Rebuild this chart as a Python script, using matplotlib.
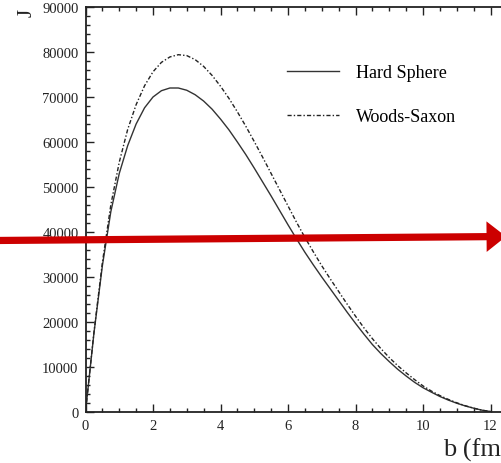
import numpy as np
import matplotlib
matplotlib.use('Agg')
import matplotlib.pyplot as plt
from matplotlib.ticker import MultipleLocator, FuncFormatter

# impact parameter b (fm), read every 0.25 fm
b = [0.0, 0.25, 0.5, 0.75, 1.0, 1.25, 1.5, 1.75, 2.0, 2.25, 2.5, 2.75,
     3.0, 3.25, 3.5, 3.75, 4.0, 4.25, 4.5, 4.75, 5.0, 5.25, 5.5, 5.75,
     6.0, 6.25, 6.5, 6.75, 7.0, 7.25, 7.5, 7.75, 8.0, 8.25, 8.5, 8.75,
     9.0, 9.25, 9.5, 9.75, 10.0, 10.25, 10.5, 10.75, 11.0, 11.25, 11.5,
     11.75, 12.0]

hard_sphere = [0, 17500, 32500, 44500, 53000, 59200, 64000, 67600, 70000,
               71400, 72000, 72000, 71500, 70500, 69100, 67300, 65100, 62700,
               60000, 57200, 54200, 51100, 48000, 44800, 41600, 38500, 35500,
               32700, 30000, 27400, 24800, 22200, 19700, 17300, 15000, 13000,
               11200, 9500, 8000, 6600, 5400, 4400, 3450, 2650, 1950, 1350,
               850, 400, 100]

woods_saxon = [0, 17700, 33200, 46000, 55500, 62800, 68300, 72500, 75600,
               77700, 78900, 79400, 79200, 78300, 76800, 74800, 72400, 69700,
               66700, 63500, 60100, 56600, 53000, 49400, 45800, 42200, 38800,
               35600, 32500, 29600, 26800, 24000, 21300, 18700, 16300, 14100,
               12100, 10300, 8700, 7200, 5800, 4650, 3650, 2800, 2050, 1400,
               850, 400, 100]

plt.rcParams['font.family'] = ['Liberation Serif', 'DejaVu Serif']

W, H = 501, 464
fig = plt.figure(figsize=(W / 100, H / 100), dpi=100)
x0, x1 = 85.5, 85.5 + 13 * 33.75
ax = fig.add_axes([x0 / W, 51 / H, (x1 - x0) / W, 405 / H])

ax.plot(b, hard_sphere, color='#333333', lw=1.0, label='Hard Sphere')
ax.plot(b, woods_saxon, color='#222222', lw=1.0,
        linestyle=(0, (3, 1.5, 1, 1.5)), label='Woods-Saxon')

ax.set_xlim(0, 13)
ax.set_ylim(0, 90000)
ax.xaxis.set_major_locator(MultipleLocator(2))
ax.xaxis.set_minor_locator(MultipleLocator(0.5))
ax.yaxis.set_major_locator(MultipleLocator(10000))
ax.yaxis.set_minor_locator(MultipleLocator(2000))
ax.tick_params(which='both', direction='in', top=True, right=False,
               labelsize=10.5, colors='#222222', width=1.0)
ax.tick_params(which='major', length=6, pad=5)
ax.tick_params(which='minor', length=3)
ax.xaxis.set_major_formatter(FuncFormatter(
    lambda v, p: '%d' % v if v <= 12 else ''))
ax.spines['right'].set_visible(False)
for s in ['left', 'bottom', 'top']:
    ax.spines[s].set_linewidth(1.3)
    ax.spines[s].set_color('#222222')

fig.text(27 / W, 1 - 13 / H, 'J', rotation=90, fontsize=15,
         ha='center', va='center', color='#222222')
fig.text(443 / W, 1 - 450 / H, 'b (fm)', fontsize=19,
         ha='left', va='center', color='#222222')

ax.legend(loc='upper left', bbox_to_anchor=(287 / W, 1 - 65 / H),
          bbox_transform=fig.transFigure, frameon=False, fontsize=13,
          handlelength=2.9, handletextpad=0.9, labelspacing=1.5,
          borderpad=0, borderaxespad=0)

# red arrow overlay
ax.annotate('', xy=(506, H - 237.5), xytext=(-5, H - 241.5),
            xycoords='figure pixels', textcoords='figure pixels',
            arrowprops=dict(arrowstyle='simple,head_length=0.7,head_width=1.1,tail_width=0.26',
                            lw=0, color='#cc0000', mutation_scale=20,
                            shrinkA=0, shrinkB=0),
            annotation_clip=False)

fig.savefig('out.png', dpi=100)
